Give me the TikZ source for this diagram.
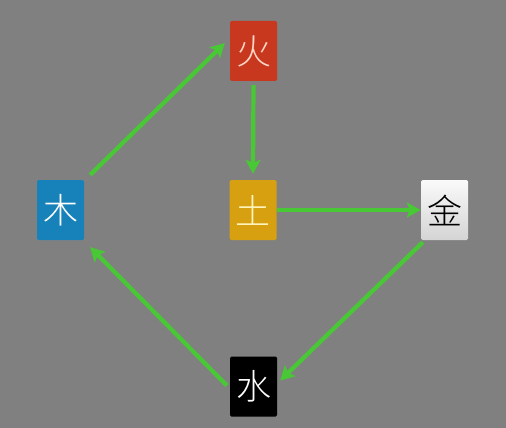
\documentclass[tikz,border=0pt]{standalone}
\usepackage{fontspec}
\newfontfamily\cjk{Noto Sans CJK SC}[UprightFont={* Light}]
\usetikzlibrary{arrows.meta,shadows}
\definecolor{bg}{RGB}{128,128,128}
\definecolor{fire}{RGB}{200,56,30}
\definecolor{wood}{RGB}{22,130,185}
\definecolor{earth}{RGB}{214,160,16}
\definecolor{arrowgreen}{RGB}{72,200,52}
\definecolor{metaltop}{RGB}{250,250,250}
\definecolor{metalbot}{RGB}{212,212,212}
\tikzset{
  elem/.style={minimum width=47pt, minimum height=60pt, inner sep=0pt,
    rounded corners=1.5pt,
    font=\cjk\fontsize{35}{35}\selectfont,
    drop shadow={shadow xshift=1.5pt, shadow yshift=-2pt, opacity=0.4}},
  link/.style={arrowgreen, line width=4.2pt,
    -{Stealth[length=14pt, width=15pt, inset=3pt]}}
}
\begin{document}
\begin{tikzpicture}[x=1pt,y=-1pt]
\fill[bg] (0,0) rectangle (506,428);
\useasboundingbox (0,0) rectangle (506,428);
\node[elem, fill=fire, text={rgb,255:red,255;green,215;blue,200}] (huo) at (253.5,51) {火};
\node[elem, fill=earth, text={rgb,255:red,255;green,245;blue,190}] (tu) at (253,210) {土};
\node[elem, top color=metaltop, bottom color=metalbot, text=black] (jin) at (444.5,210) {金};
\node[elem, fill=wood, text=white] (mu) at (60.5,210) {木};
\node[elem, fill=black, text=white] (shui) at (253.5,386.5) {水};
\draw[link] ([xshift=6pt,yshift=5pt]mu.north east) -- ([xshift=-5pt,yshift=8pt]huo.west);
\draw[link] ([yshift=-4pt]huo.south) -- ([yshift=6pt]tu.north);
\draw[link] (tu.east) -- (jin.west);
\draw[link] ([xshift=2pt,yshift=-2pt]jin.south west) -- ([xshift=3pt,yshift=6pt]shui.east);
\draw[link] ([xshift=-3pt,yshift=1pt]shui.west) -- ([xshift=6pt,yshift=-7pt]mu.south east);
\end{tikzpicture}
\end{document}
